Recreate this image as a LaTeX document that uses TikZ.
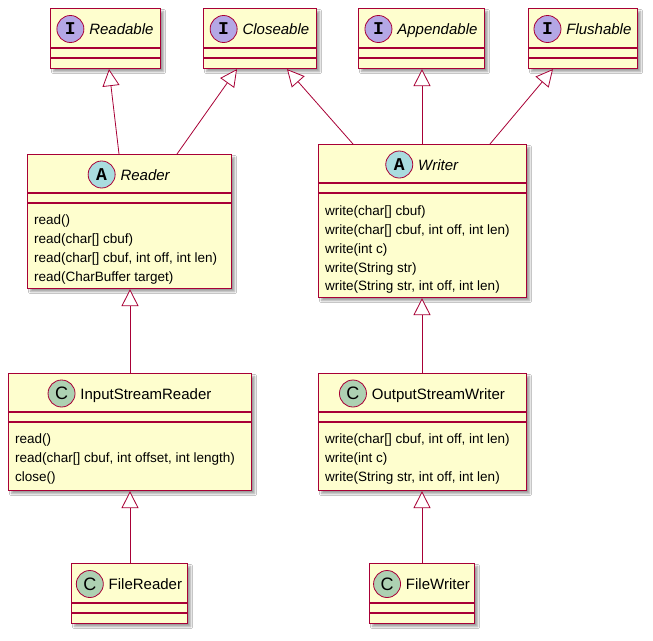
\documentclass[tikz,border=0pt]{standalone}
\usepackage{fontspec}
\setmainfont{Liberation Sans}
\newfontfamily\circfont{Liberation Mono}
\usetikzlibrary{shadows.blur,arrows.meta}
\definecolor{bfill}{HTML}{FEFECE}
\definecolor{bline}{HTML}{A80036}
\definecolor{ci}{HTML}{B4A7E5}
\definecolor{ca}{HTML}{A9DCDF}
\definecolor{cc}{HTML}{ADD1B2}
\tikzset{
  box/.style={draw=bline,fill=bfill,line width=1.1pt,anchor=north west,inner sep=0,
    blur shadow={shadow xshift=3pt,shadow yshift=-3pt,shadow blur steps=5,shadow opacity=40}},
  sep/.style={draw=bline,line width=1.1pt},
  circ/.style={circle,draw=bline,line width=0.8pt,minimum size=27pt,inner sep=0,font=\fontsize{18}{18}\selectfont},
  ttl/.style={font=\fontsize{15}{16}\selectfont,inner sep=0},
  mth/.style={font=\fontsize{13.5}{18.7}\selectfont,align=left,anchor=north west,inner sep=0},
  inh/.style={draw=bline,line width=0.8pt,-{Triangle[open,length=17pt,width=17pt,fill=white]}}
}
\newcommand\mb[1]{{\circfont\bfseries #1}}
% name, x, y, w, h, header height, letter, circle colour, title
\newcommand\umlc[9]{%
  \node[box,minimum width=#4pt,minimum height=#5pt] (#1) at (#2,#3) {};
  \draw[sep] (#2,#3+#6) -- ++(#4,0) (#2,#3+#6+10) -- ++(#4,0);
  \node[ttl] (#1-t) at (#2+#4/2,#3+#6/2+1) {\tikz[baseline=-5.5pt]\node[circ,fill=#8]{#7};\hspace{5pt}#9};
}
\begin{document}
\begin{tikzpicture}[x=1pt,y=-1pt]
\fill[white] (0,0) rectangle (653,640);
\umlc{rd}{50}{8}{110}{60}{40}{\mb{I}}{ci}{\textit{Readable}}
\umlc{cl}{203}{8}{113}{60}{40}{\mb{I}}{ci}{\textit{Closeable}}
\umlc{ap}{358}{8}{126}{60}{40}{\mb{I}}{ci}{\textit{Appendable}}
\umlc{fl}{528}{8}{109}{60}{40}{\mb{I}}{ci}{\textit{Flushable}}
\umlc{reader}{27}{154}{204}{134}{39}{\mb{A}}{ca}{\textit{Reader}}
\node[mth] (reader-m) at (34,215) {read()\\read(char[] cbuf)\\read(char[] cbuf, int off, int len)\\read(CharBuffer target)};
\umlc{writer}{318}{144}{208}{153}{39}{\mb{A}}{ca}{\textit{Writer}}
\node[mth] (writer-m) at (325,206) {write(char[] cbuf)\\write(char[] cbuf, int off, int len)\\write(int c)\\write(String str)\\write(String str, int off, int len)};
\umlc{isr}{8}{373}{243}{117}{39}{C}{cc}{InputStreamReader}
\node[mth] (isr-m) at (15,434) {read()\\read(char[] cbuf, int offset, int length)\\close()};
\umlc{osw}{318}{373}{208}{117}{39}{C}{cc}{OutputStreamWriter}
\node[mth] (osw-m) at (325,434) {write(char[] cbuf, int off, int len)\\write(int c)\\write(String str, int off, int len)};
\umlc{fr}{71}{563}{116}{60}{40}{C}{cc}{FileReader}
\umlc{fw}{369}{563}{105}{60}{40}{C}{cc}{FileWriter}
\draw[inh] (reader.north -| 119,0) -- (rd.south -| 109,0);
\draw[inh] (reader.north -| 177,0) -- (cl.south -| 237,0);
\draw[inh] (writer.north -| 353,0) -- (cl.south -| 287,0);
\draw[inh] (writer.north -| 422,0) -- (ap.south -| 422,0);
\draw[inh] (writer.north -| 490,0) -- (fl.south -| 553,0);
\draw[inh] (isr.north -| 130,0) -- (reader.south -| 130,0);
\draw[inh] (osw.north -| 422,0) -- (writer.south -| 422,0);
\draw[inh] (fr.north -| 130,0) -- (isr.south -| 130,0);
\draw[inh] (fw.north -| 422,0) -- (osw.south -| 422,0);
\end{tikzpicture}
\end{document}
